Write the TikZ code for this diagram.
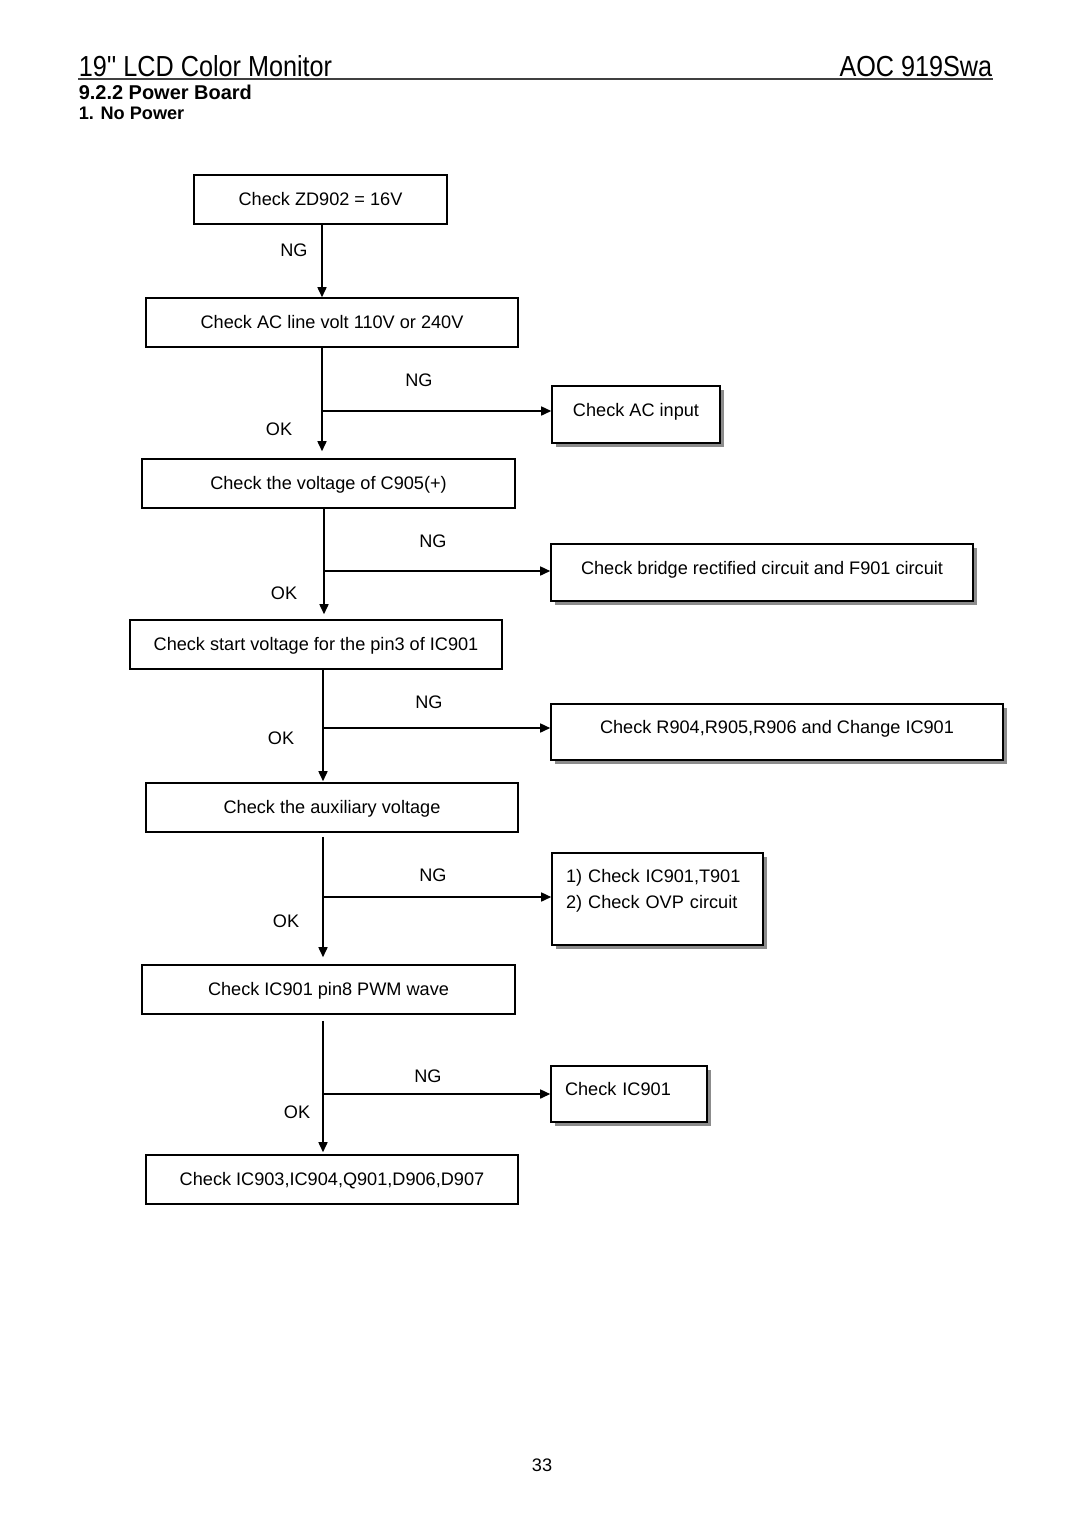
\documentclass[tikz,border=0pt]{standalone}
\usepackage{fontspec}
\setmainfont{Liberation Sans}
\newfontfamily\headfont[FakeStretch=0.87]{Liberation Sans}
\usetikzlibrary{arrows.meta,shadows}
\newlength\pxu
\setlength\pxu{0.025cm}

\begin{document}
\begin{tikzpicture}[
        x=\pxu, y=-\pxu,
        line width=1.1pt,
        font=\fontsize{12.9}{18.5}\selectfont
    ]
    \tikzset{
        mainbox/.style = {rectangle, draw=black, align=center, fill=white, minimum height=49\pxu, inner sep=0pt, text height=13\pxu, text depth=1\pxu},
        sidebox/.style = {rectangle, draw=black, fill=white, minimum height=57\pxu, inner sep=0pt, text height=13\pxu, text depth=10\pxu,
            drop shadow={shadow xshift=0.1cm, shadow yshift=-0.1cm, fill=black!45, opacity=1}},
        flow/.style = {-{Triangle[length=0.25cm, width=0.225cm]}},
        answer/.style = {inner sep=0pt}
    }
    \useasboundingbox (0,0) rectangle (1080,1528);
    % page header
    \node[anchor=base west, inner sep=0pt, font=\headfont\fontsize{20.6}{24}\selectfont] (title) at (78,76) {19'' LCD Color Monitor};
    \node[anchor=base east, inner sep=0pt, font=\headfont\fontsize{20.6}{24}\selectfont] (model) at (993,76) {AOC 919Swa};
    \draw[black!75, line width=1.2pt] (title.base west |- 0,79) -- (model.base east |- 0,79);
    \node[anchor=base west, inner sep=0pt, font=\bfseries\fontsize{14.2}{16}\selectfont] (section) at (78,99) {9.2.2 Power Board};
    \node[anchor=base west, inner sep=0pt, font=\bfseries\fontsize{12.9}{15}\selectfont] (case) at (78,119) {1. No Power};
    \node[inner sep=0pt] (pagenum) at (542,1465) {33};

    % main column
    \node[mainbox, minimum width=253\pxu] (b1) at (320.5,199.5) {Check ZD902 = 16V};
    \node[mainbox, minimum width=372\pxu] (b2) at (332,322.5) {Check AC line volt 110V or 240V};
    \node[mainbox, minimum width=373\pxu] (b3) at (328.5,483.5) {Check the voltage of C905(+)};
    \node[mainbox, minimum width=372\pxu] (b4) at (316,644.5) {Check start voltage for the pin3 of IC901};
    \node[mainbox, minimum width=372\pxu] (b5) at (332,807.5) {Check the auxiliary voltage};
    \node[mainbox, minimum width=373\pxu] (b6) at (328.5,989.5) {Check IC901 pin8 PWM wave};
    \node[mainbox, minimum width=372\pxu] (b7) at (332,1179.5) {Check IC903,IC904,Q901,D906,D907};

    % side boxes
    \node[sidebox, minimum width=168\pxu] (s1) at (636,414.5) {Check AC input};
    \node[sidebox, minimum width=422\pxu] (s2) at (762,572.5) {Check bridge rectified circuit and F901 circuit};
    \node[sidebox, minimum width=452\pxu, minimum height=56\pxu] (s3) at (777,732) {Check R904,R905,R906 and Change IC901};
    \node[sidebox, minimum height=92\pxu, inner xsep=14\pxu, text width=183\pxu, align=left, text depth=46\pxu] (s4) at (657.5,899) {1) Check IC901,T901\\2) Check OVP circuit};
    \node[sidebox, minimum height=56\pxu, inner xsep=14\pxu, text width=128\pxu, align=left] (s5) at (629,1094) {Check IC901};

    % junctions
    \coordinate (j1) at (322,250);
    \coordinate (j2) at (322,411);
    \coordinate (j3) at (324,571);
    \coordinate (j4) at (323,728);
    \coordinate (j5) at (323,897);
    \coordinate (j6) at (323,1094);

    \draw[flow] (b1.south -| j1) -- (b2.north -| j1);
    \draw[flow, shorten >=7\pxu] (b2.south -| j2) -- (b3.north -| j2);
    \draw[flow] (j2) -- (j2 -| s1.west);
    \draw[flow, shorten >=5\pxu] (b3.south -| j3) -- (b4.north -| j3);
    \draw[flow] (j3) -- (j3 -| s2.west);
    \draw[flow, shorten >=1\pxu] (b4.south -| j4) -- (b5.north -| j4);
    \draw[flow] (j4) -- (j4 -| s3.west);
    \draw[flow, shorten <=4\pxu, shorten >=7\pxu] (b5.south -| j5) -- (b6.north -| j5);
    \draw[flow] (j5) -- (j5 -| s4.west);
    \draw[flow, shorten <=6\pxu, shorten >=2\pxu] (b6.south -| j6) -- (b7.north -| j6);
    \draw[flow] (j6) -- (j6 -| s5.west);

    % answers
    \node[answer] (ng1) at (294,250) {NG};
    \node[answer] (ng2) at (419,380) {NG};
    \node[answer] (ok2) at (279,429) {OK};
    \node[answer] (ng3) at (433,541) {NG};
    \node[answer] (ok3) at (284,593) {OK};
    \node[answer] (ng4) at (429,702) {NG};
    \node[answer] (ok4) at (281,738) {OK};
    \node[answer] (ng5) at (433,875) {NG};
    \node[answer] (ok5) at (286,921) {OK};
    \node[answer] (ng6) at (428,1076) {NG};
    \node[answer] (ok6) at (297,1112) {OK};
\end{tikzpicture}
\end{document}
